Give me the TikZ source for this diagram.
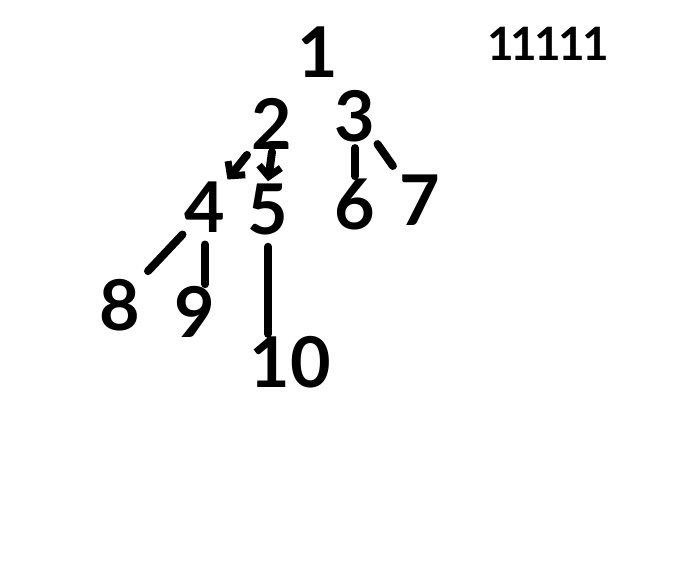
\documentclass[tikz,border=0pt]{standalone}
\usepackage{fontspec}
\setsansfont{Lato}
\usetikzlibrary{arrows.meta}
\begin{document}
\begin{tikzpicture}[x=1pt,y=-1pt,
    num/.style={font=\sffamily\bfseries\fontsize{70}{70}\selectfont,inner sep=2pt},
    tally/.style={font=\sffamily\bfseries\fontsize{46}{46}\selectfont,inner sep=0pt},
    link/.style={line width=8pt,line cap=round},
    >={Straight Barb[length=10pt,width=22pt,line width=7pt]}]

  \useasboundingbox (0,0) rectangle (696,564);

  % the tree
  \node[num] (n1) at (318,52) {1};
  \node[num] (n2) at (272,124) {2};
  \node[num] (n3) at (355,116) {3};
  \node[num] (n4) at (205,207) {4};
  \node[num] (n5) at (268,209) {5};
  \node[num] (n6) at (355,204) {6};
  \node[num] (n7) at (420,200) {7};
  \node[num] (n8) at (120,305) {8};
  \node[num] (n9) at (195,312) {9};
  \node[num] (n10) at (290,362) {10};

  % the count
  \node[tally] (count) at (548,44) {1\kern-3pt1\kern-3pt1\kern-3pt1\kern-3pt1};

  \draw[link,->,shorten <=4pt] (n2.south west) -- (n4.north east);
  \draw[link,->] (n2.south) -- (n5.north);
  \draw[link,shorten <=4pt] (n3.south) -- (n6.north);
  \draw[link,shorten >=8pt] (n3.south east) -- (n7.north west);
  \draw[link,shorten >=8pt] (n4.south west) -- (n8.north east);
  \draw[link,shorten <=10pt] (n4.south) -- (n4.south |- n9.north);
  \draw[link,shorten <=10pt] (n5.south) -- (n5.south |- n10.north);
\end{tikzpicture}
\end{document}
